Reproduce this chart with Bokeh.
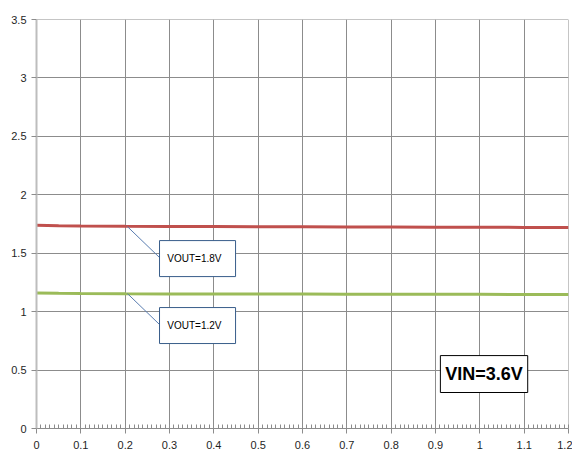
from bokeh.plotting import figure
from bokeh.models import Range1d, SingleIntervalTicker, BoxAnnotation, Label, ColumnDataSource
from bokeh.embed import file_html
from bokeh.resources import INLINE

# data
x_vals = [0.0, 0.05, 0.1, 0.2, 0.3, 0.4, 0.5, 0.6, 0.7, 0.8, 0.9, 1.0, 1.1, 1.2]
vout_18 = [1.740, 1.735, 1.732, 1.730, 1.729, 1.728, 1.727, 1.726, 1.725, 1.724, 1.723, 1.722, 1.721, 1.720]
vout_12 = [1.160, 1.157, 1.155, 1.153, 1.152, 1.151, 1.150, 1.150, 1.149, 1.149, 1.148, 1.148, 1.147, 1.147]
series_names = ["VOUT=1.8V", "VOUT=1.2V"]
note_text = "VIN=3.6V"

FONT = "Liberation Sans"

p = figure(width=572, height=460, output_backend="svg", toolbar_location=None,
           x_range=Range1d(0, 1.2000001), y_range=Range1d(0, 3.5000001),
           min_border_left=36, min_border_top=19, min_border_right=4, min_border_bottom=32)
p.outline_line_color = None
p.background_fill_color = "white"
p.border_fill_color = "white"

p.xaxis.ticker = SingleIntervalTicker(interval=0.1, num_minor_ticks=10)
p.yaxis.ticker = SingleIntervalTicker(interval=0.5, num_minor_ticks=0)

p.xgrid.grid_line_color = "#8c8c8c"
p.ygrid.grid_line_color = "#8c8c8c"
p.xgrid.grid_line_width = 1
p.ygrid.grid_line_width = 1

for ax in (p.xaxis, p.yaxis):
    ax.major_label_text_font = FONT
    ax.major_label_text_font_size = "11px"
    ax.major_label_text_color = "#1f1f1f"
    ax.major_tick_line_color = "#8c8c8c"
    ax.minor_tick_line_color = "#8c8c8c"

p.xaxis.axis_line_color = "#8c8c8c"
p.xaxis.major_tick_in = 0
p.xaxis.major_tick_out = 5
p.xaxis.minor_tick_in = 4
p.xaxis.minor_tick_out = 0
p.xaxis.major_label_standoff = 7

p.yaxis.axis_line_color = "#bdbdbd"
p.yaxis.axis_line_width = 2
p.yaxis.major_tick_in = 0
p.yaxis.major_tick_out = 5
p.yaxis.minor_tick_line_color = None
p.yaxis.major_label_standoff = 5

p.line(x_vals, vout_18, line_color="#C0504D", line_width=3)
p.line(x_vals, vout_12, line_color="#9BBB59", line_width=3)

# callouts
leaders = ColumnDataSource(dict(x0=[0.205, 0.205], y0=[1.728, 1.155], x1=[0.28, 0.28], y1=[1.454, 0.881]))
p.segment(x0="x0", y0="y0", x1="x1", y1="y1", source=leaders, line_color="#5a7db0", line_width=1)

for (top, bottom), name in zip([(1.608, 1.300), (1.035, 0.727)], series_names):
    p.add_layout(BoxAnnotation(left=0.2775, right=0.449, top=top, bottom=bottom,
                               fill_color="white", fill_alpha=1.0,
                               line_color="#385D8A", line_width=1, line_alpha=1.0))
    p.add_layout(Label(x=0.295, y=(top + bottom) / 2, text=name, text_font=FONT,
                       text_font_size="10px", text_color="#000000", text_baseline="middle"))

p.add_layout(BoxAnnotation(left=0.911, right=1.108, top=0.624, bottom=0.308,
                           fill_color="white", fill_alpha=1.0,
                           line_color="#000000", line_width=1, line_alpha=1.0))
p.add_layout(Label(x=1.0095, y=0.466, text=note_text, text_font=FONT, text_font_style="bold",
                   text_font_size="18px", text_color="#000000", text_align="center",
                   text_baseline="middle"))

open("out.html", "w").write(file_html(p, INLINE))
